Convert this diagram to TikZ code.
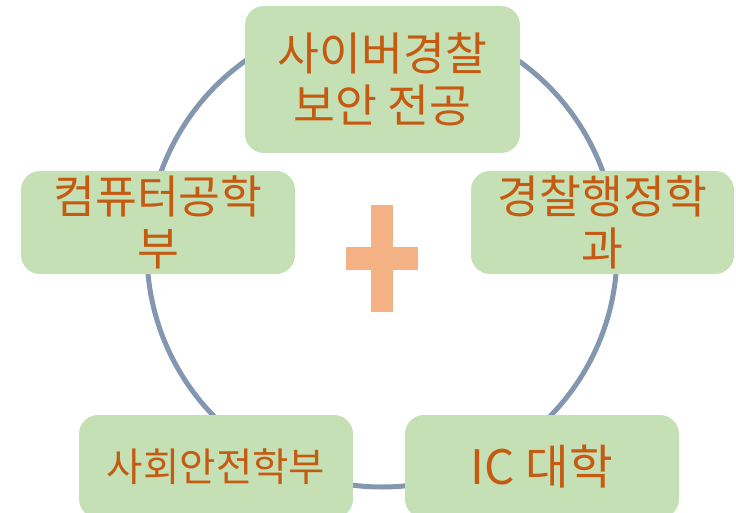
\documentclass[tikz,border=0pt]{standalone}
\usepackage{fontspec}
\newfontfamily\kr{Noto Sans CJK KR}
\definecolor{boxfill}{RGB}{197,224,180}
\definecolor{txtcol}{RGB}{197,90,17}
\definecolor{ringcol}{RGB}{132,151,176}
\definecolor{pluscol}{RGB}{244,177,131}
\begin{document}
\begin{tikzpicture}[x=1pt,y=-1pt,
  unitbox/.style={draw=none,fill=boxfill,rounded corners=19pt,align=center,
    text=txtcol,inner sep=0pt,font=\kr\fontsize{45.5}{52}\selectfont},
  ring/.style={draw=ringcol,line width=5pt}]
\useasboundingbox (0,0) rectangle (736,513);
\clip (0,0) rectangle (736,513);
\draw[ring] (382,252) circle[radius=235];
\node[unitbox,minimum width=275,minimum height=147] (top) at (382.5,79.5) {사이버경찰\\보안 전공};
\node[unitbox,minimum width=274,minimum height=103] (left) at (158,222.5) {컴퓨터공학\\부};
\node[unitbox,minimum width=263,minimum height=103] (right) at (602.5,222.5) {경찰행정학\\과};
\node[unitbox,minimum width=274,minimum height=103,font=\kr\fontsize{39.5}{46}\selectfont] (bl) at (216,466.5) {사회안전학부};
\node[unitbox,minimum width=274,minimum height=103,font=\kr\fontsize{47.5}{54}\selectfont] (br) at (542,466.5) {IC 대학};
\fill[pluscol] (371,205) rectangle (393,312);
\fill[pluscol] (346,247) rectangle (418,270);
\end{tikzpicture}
\end{document}
